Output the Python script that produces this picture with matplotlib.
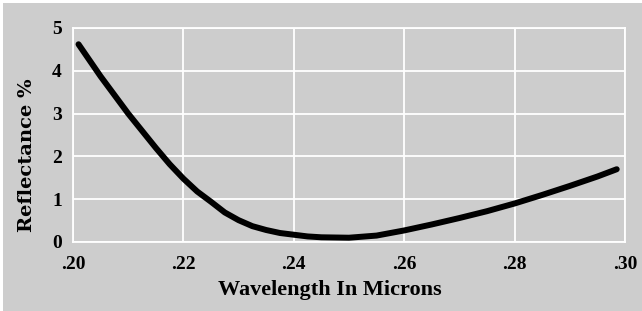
import matplotlib
matplotlib.use("Agg")
import matplotlib.pyplot as plt
from matplotlib.patches import Rectangle

# 데이터
wavelength = [0.2010, 0.2050, 0.2100, 0.2150, 0.2175, 0.2200, 0.2225, 0.2250,
              0.2275, 0.2300, 0.2325, 0.2350, 0.2375, 0.2400, 0.2425, 0.2450,
              0.2500, 0.2550, 0.2600, 0.2650, 0.2700, 0.2750, 0.2800, 0.2850,
              0.2900, 0.2950, 0.2985]
reflectance = [4.62, 3.87, 3.00, 2.20, 1.82, 1.48, 1.18, 0.94,
               0.69, 0.51, 0.37, 0.28, 0.21, 0.17, 0.13, 0.11,
               0.10, 0.15, 0.27, 0.41, 0.56, 0.72, 0.90, 1.10,
               1.31, 1.53, 1.70]
x_ticks = [0.20, 0.22, 0.24, 0.26, 0.28, 0.30]
x_tick_labels = ['.20', '.22', '.24', '.26', '.28', '.30']
y_ticks = [0, 1, 2, 3, 4, 5]

bg = '#cdcdcd'
tick_font = 'Liberation Serif'
label_font = 'DejaVu Serif'

fig = plt.figure(figsize=(6.42, 3.11), dpi=100, facecolor='white')
# 회색 배경 패널 (위/왼쪽에 얇은 흰 테두리)
fig.patches.append(Rectangle((3 / 642, -0.1), 1.1, 1.1 - 3 / 311, transform=fig.transFigure,
                             facecolor=bg, edgecolor='none', zorder=-10))

ax = fig.add_axes([73 / 642, (311 - 242) / 311, (625 - 73) / 642, (242 - 28) / 311])
ax.set_facecolor(bg)
ax.set_zorder(5)

ax.plot(wavelength, reflectance, color='black', linewidth=4.3,
        solid_capstyle='round', solid_joinstyle='round', zorder=3)

ax.set_xlim(0.20, 0.30)
ax.set_ylim(0, 5)
ax.set_xticks(x_ticks)
ax.set_xticklabels(x_tick_labels)
ax.set_yticks(y_ticks)

ax.grid(True, color='white', linewidth=1.3)
ax.set_axisbelow(True)
for s in ax.spines.values():
    s.set_color('white')
    s.set_linewidth(1.3)

ax.tick_params(length=0, labelsize=14)
ax.tick_params(axis='x', pad=10)
ax.tick_params(axis='y', pad=8)
for lab in ax.get_xticklabels() + ax.get_yticklabels():
    lab.set_fontfamily(tick_font)
    lab.set_fontweight('bold')

ax.set_xlabel('Wavelength In Microns', fontfamily=tick_font, fontweight='bold',
              fontsize=16, va='center')
ax.xaxis.set_label_coords(0.4656, -0.224)
ax.set_ylabel('Reflectance %', fontfamily=label_font, fontweight='bold',
              fontsize=14, va='center')
ax.yaxis.set_label_coords(-0.083, 0.406)

fig.savefig('out.png', dpi=100, facecolor='white')
